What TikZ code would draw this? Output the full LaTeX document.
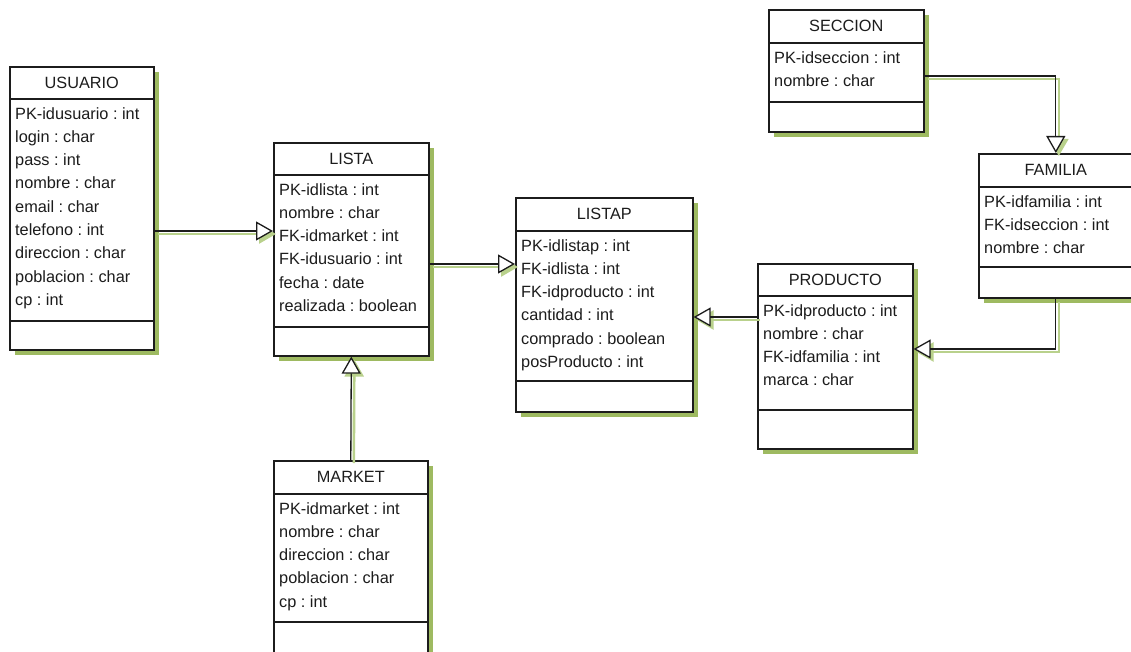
\documentclass[tikz,border=0pt]{standalone}
\usepackage{fontspec}
\setmainfont{Liberation Sans}
\usetikzlibrary{arrows.meta,shadows}
\definecolor{tinta}{HTML}{1C1C1C}
\definecolor{sombra}{HTML}{93B350}
\definecolor{sombralinea}{HTML}{B9D18C}
\frenchspacing

\newcommand{\clase}[9]{%
  \node[caja,minimum width=#4pt,minimum height=#5pt] (#1) at (#2,#3) {};
  \draw[separa] ([yshift=-#6pt]#1.north west) -- ([yshift=-#6pt]#1.north east);
  \draw[separa] ([yshift=-#7pt]#1.north west) -- ([yshift=-#7pt]#1.north east);
  \node[titulo] at ([yshift={-0.5*#6pt}]#1.north) {#8};
  \node[atrib] at ([xshift=6pt,yshift={-#6pt-8pt}]#1.north west) {#9};
}
\newcommand{\herencia}[1]{\draw[sombrahereda] #1; \draw[hereda] #1;}

\begin{document}
\begin{tikzpicture}[x=1pt,y=-1pt,
    caja/.style={draw=tinta,line width=1.6pt,fill=white,anchor=north west,inner sep=0pt,
      drop shadow={fill=sombra,opacity=0.9,shadow xshift=5pt,shadow yshift=-5pt}},
    separa/.style={draw=tinta,line width=1.4pt},
    titulo/.style={text=tinta,font=\fontsize{16.3}{19}\selectfont,inner sep=0pt},
    atrib/.style={text=tinta,font=\fontsize{16.3}{23.3}\selectfont,align=left,anchor=north west,inner sep=0pt},
    hereda/.style={draw=tinta,line width=1.3pt,-{Triangle[length=17pt,width=19pt,fill=white]}},
    sombrahereda/.style={draw=sombralinea,line width=2.6pt,
      -{Triangle[length=17pt,width=19pt,fill=sombralinea]},
      transform canvas={xshift=3pt,yshift=-3pt}}]
  \useasboundingbox (0,0) rectangle (1131,652);
  \clip (0,0) rectangle (1131,652);
  \clase{usuario}{9}{66}{144}{283}{33}{255}{USUARIO}
    {PK-idusuario : int\\login : char\\pass : int\\nombre : char\\email : char\\telefono : int\\direccion : char\\poblacion : char\\cp : int}
  \clase{lista}{273}{142}{155}{213}{33}{185}{LISTA}
    {PK-idlista : int\\nombre : char\\FK-idmarket : int\\FK-idusuario : int\\fecha : date\\realizada : boolean}
  \clase{listap}{515}{197}{177}{214}{34}{184}{LISTAP}
    {PK-idlistap : int\\FK-idlista : int\\FK-idproducto : int\\cantidad : int\\comprado : boolean\\posProducto : int}
  \clase{seccion}{768}{9}{155}{122}{34}{93}{SECCION}
    {PK-idseccion : int\\nombre : char}
  \clase{familia}{978}{153}{154}{144}{34}{114}{FAMILIA}
    {PK-idfamilia : int\\FK-idseccion : int\\nombre : char}
  \clase{producto}{757}{263}{155}{185}{33}{147}{PRODUCTO}
    {PK-idproducto : int\\nombre : char\\FK-idfamilia : int\\marca : char}
  \clase{market}{273}{460}{154}{200}{34}{162}{MARKET}
    {PK-idmarket : int\\nombre : char\\direccion : char\\poblacion : char\\cp : int}
  \herencia{(usuario.east |- 0,231) -- (lista.west |- 0,231)}
  \herencia{(lista.east |- 0,264) -- (listap.west |- 0,264)}
  \herencia{(producto.west |- 0,317) -- (listap.east |- 0,317)}
  \herencia{(market.north) -- (lista.south)}
  \herencia{(seccion.east |- 0,76) -| (familia.north)}
  \herencia{(familia.south) |- (producto.east |- 0,349)}
\end{tikzpicture}
\end{document}
